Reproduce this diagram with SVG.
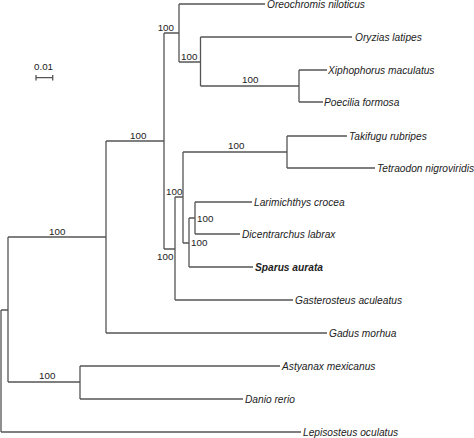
<svg xmlns="http://www.w3.org/2000/svg" width="474" height="438" viewBox="0 0 474 438">
<style>
.e{stroke:#555;stroke-width:1.3;fill:none}
.t{font-family:"Liberation Sans",Arial,sans-serif;font-size:10.2px;font-style:italic;fill:#222}
.b{font-weight:bold}
.s{font-family:"Liberation Sans",Arial,sans-serif;font-size:9.8px;fill:#222}
</style>
<rect width="474" height="438" fill="#fff"/>
<g id="connectors">
<path class="e" d="M1,310V432M1,310H8M8,237V382M8,237H106M8,382H80M80,366V399M80,366H280M80,399H243M1,432H301"/>
<path class="e" d="M106,141V333M106,141H164M106,333H327M164,33V249M164,33H179M164,249H175"/>
<path class="e" d="M179,4V62M179,4H265M179,62H200.5M200.5,37V86M200.5,37H352M200.5,86H299M299,70V102M299,70H327M299,102H323"/>
<path class="e" d="M175,197V300M175,197H183M175,300H293M183,152V243M183,152H287M287,136V168M287,136H347M287,168H375M183,243H189M189,218V267M189,218H195M189,267H253M195,202V234M195,202H252M195,234H240"/>
<path class="e" d="M36,77.7H52.7M36,75V80.5M52.7,75V80.5"/>
</g>
<g id="scale"><text class="s" x="34" y="70">0.01</text></g>
<g id="support">
<text class="s" x="174" y="31" text-anchor="end">100</text>
<text class="s" x="181" y="60">100</text>
<text class="s" x="242" y="83">100</text>
<text class="s" x="130" y="139">100</text>
<text class="s" x="228" y="149">100</text>
<text class="s" x="166" y="195">100</text>
<text class="s" x="197" y="222">100</text>
<text class="s" x="191" y="246">100</text>
<text class="s" x="157" y="260">100</text>
<text class="s" x="49" y="235">100</text>
<text class="s" x="39" y="379">100</text>
</g>
<g id="n-oreochromis"><text class="t" x="267" y="7.5">Oreochromis niloticus</text></g>
<g id="n-oryzias"><text class="t" x="355" y="40.5">Oryzias latipes</text></g>
<g id="n-xiphophorus"><text class="t" x="328" y="73.5">Xiphophorus maculatus</text></g>
<g id="n-poecilia"><text class="t" x="324" y="105.5">Poecilia formosa</text></g>
<g id="n-takifugu"><text class="t" x="349" y="139.5">Takifugu rubripes</text></g>
<g id="n-tetraodon"><text class="t" x="377" y="171.5">Tetraodon nigroviridis</text></g>
<g id="n-larimichthys"><text class="t" x="254" y="205.5">Larimichthys crocea</text></g>
<g id="n-dicentrarchus"><text class="t" x="242" y="237.5">Dicentrarchus labrax</text></g>
<g id="n-sparus"><text class="t b" x="255" y="270.5">Sparus aurata</text></g>
<g id="n-gasterosteus"><text class="t" x="295" y="303.5">Gasterosteus aculeatus</text></g>
<g id="n-gadus"><text class="t" x="329" y="336.5">Gadus morhua</text></g>
<g id="n-astyanax"><text class="t" x="282" y="369.5">Astyanax mexicanus</text></g>
<g id="n-danio"><text class="t" x="245" y="402.5">Danio rerio</text></g>
<g id="n-lepisosteus"><text class="t" x="303" y="435.5">Lepisosteus oculatus</text></g>
</svg>
